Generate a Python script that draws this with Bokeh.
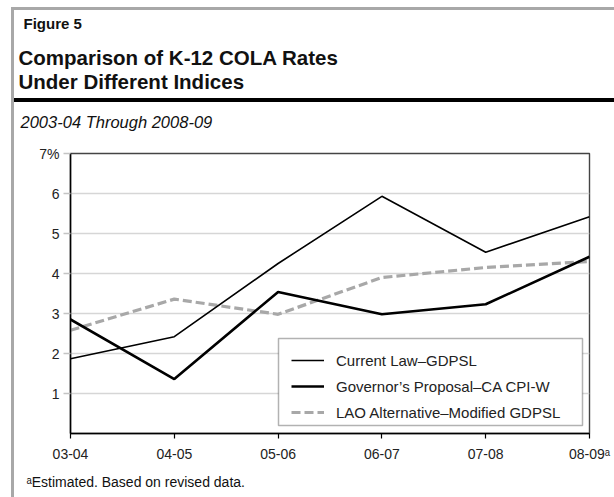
from bokeh.plotting import figure
from bokeh.models import (ColumnDataSource, Legend, LegendItem, BoxAnnotation,
                          FixedTicker, Title, InlineStyleSheet)
from bokeh.embed import file_html
from bokeh.resources import INLINE

# ---- data ----
years = ["03-04", "04-05", "05-06", "06-07", "07-08", "08-09"]
current_law = [1.87, 2.42, 4.25, 5.93, 4.53, 5.42]
governor = [2.85, 1.36, 3.54, 2.98, 3.23, 4.42]
lao = [2.58, 3.36, 2.98, 3.90, 4.15, 4.30]
y_ticks = [1, 2, 3, 4, 5, 6, 7]
y_tick_labels = ["1", "2", "3", "4", "5", "6", "7%"]
series_names = ["Current Law\u2013GDPSL",
                "Governor\u2019s Proposal\u2013CA CPI-W",
                "LAO Alternative\u2013Modified GDPSL"]
figure_label = "Figure 5"
title_lines = ["Comparison of K-12 COLA Rates", "Under Different Indices"]
subtitle = "2003-04 Through 2008-09"
estimate_mark = "\u1d43"
footnote = estimate_mark + "Estimated. Based on revised data."

FONT = "Liberation Sans"
xs = list(range(len(years)))

src = ColumnDataSource(dict(x=xs, year=years, cur=current_law, gov=governor, lao=lao))

p = figure(width=614, height=497, output_backend="svg", toolbar_location=None,
           x_range=(xs[0], xs[-1]), y_range=(0, max(y_ticks)),
           min_border_left=70, min_border_right=25, min_border_top=153, min_border_bottom=64)
p.background_fill_color = "white"
p.border_fill_color = None
p.outline_line_color = "#444444"
p.outline_line_width = 1.4

# exhibit box rules (gray top/left border, black rule under the title)
p.stylesheets = [InlineStyleSheet(css=(
    ":host { background: "
    "linear-gradient(#a8a8a8,#a8a8a8) right 0px top 7px / 603px 3px no-repeat, "
    "linear-gradient(#a8a8a8,#a8a8a8) right 600px top 7px / 3px 490px no-repeat, "
    "linear-gradient(#000000,#000000) right 0px top 98px / 602px 4px no-repeat, #ffffff; }"))]

# x axis
p.xaxis.ticker = FixedTicker(ticks=xs)
ov = {i: years[i] for i in xs}
ov[xs[-1]] = years[-1] + estimate_mark
p.xaxis.major_label_overrides = ov
p.xaxis.axis_line_color = "black"
p.xaxis.axis_line_width = 1.5
p.xaxis.major_tick_out = 5
p.xaxis.major_tick_in = 0
p.xaxis.major_tick_line_color = "black"
p.xaxis.major_tick_line_width = 1.2
p.xaxis.minor_tick_line_color = None
p.xaxis.major_label_text_font = FONT
p.xaxis.major_label_text_font_size = "14px"
p.xaxis.major_label_text_color = "#222222"
p.xaxis.major_label_standoff = 7

# y axis
p.yaxis.ticker = FixedTicker(ticks=y_ticks)
p.yaxis.major_label_overrides = {t: lab for t, lab in zip(y_ticks, y_tick_labels)}
p.yaxis.axis_line_color = "black"
p.yaxis.axis_line_width = 1.5
p.yaxis.major_tick_out = 7
p.yaxis.major_tick_in = 0
p.yaxis.major_tick_line_color = "#c4c4c4"
p.yaxis.major_tick_line_width = 1.5
p.yaxis.minor_tick_line_color = None
p.yaxis.major_label_text_font = FONT
p.yaxis.major_label_text_font_size = "14px"
p.yaxis.major_label_text_color = "#222222"
p.yaxis.major_label_standoff = 4

p.xgrid.visible = False
p.ygrid.ticker = FixedTicker(ticks=y_ticks[:-1])
p.ygrid.grid_line_color = "#d6d6d6"
p.ygrid.grid_line_width = 1.5

# lines
r3 = p.line("x", "lao", source=src, line_color="#a8a8a8", line_width=3.2, line_dash="9 4")
r1 = p.line("x", "cur", source=src, line_color="black", line_width=1.6)
r2 = p.line("x", "gov", source=src, line_color="black", line_width=2.6)

# legend box (white, black border) with the legend on top
p.add_layout(BoxAnnotation(left=278, right=582, top=338, bottom=425,
                           left_units="canvas", right_units="canvas",
                           top_units="canvas", bottom_units="canvas",
                           fill_color="white", fill_alpha=1.0,
                           line_color="black", line_width=1.5))
legend = Legend(items=[LegendItem(label=series_names[0], renderers=[r1]),
                       LegendItem(label=series_names[1], renderers=[r2]),
                       LegendItem(label=series_names[2], renderers=[r3])],
                location=(221, 8), margin=0, padding=5, spacing=0,
                glyph_width=33, glyph_height=26, label_height=26, label_standoff=12,
                border_line_color=None, background_fill_alpha=0,
                label_text_font=FONT, label_text_font_size="15px",
                label_text_color="#222222")
p.add_layout(legend)

# header texts (first added sits nearest the frame)
def head(text, size, style, offset, standoff):
    p.add_layout(Title(text=text, align="left", offset=offset, standoff=standoff,
                       text_font=FONT, text_font_size=size, text_font_style=style,
                       text_color="#111111"), "above")

head(subtitle, "16.5px", "italic", -50, 46.0)
head(title_lines[1], "20.5px", "bold", -52, -10.5)
head(title_lines[0], "20.5px", "bold", -52, 6.7)
head(figure_label, "15px", "bold", -47, 17.8)

p.add_layout(Title(text=footnote, align="left", offset=-44, standoff=15, text_font=FONT,
                   text_font_size="14px", text_font_style="normal",
                   text_color="#111111"), "below")

open("out.html", "w").write(file_html(p, INLINE))
